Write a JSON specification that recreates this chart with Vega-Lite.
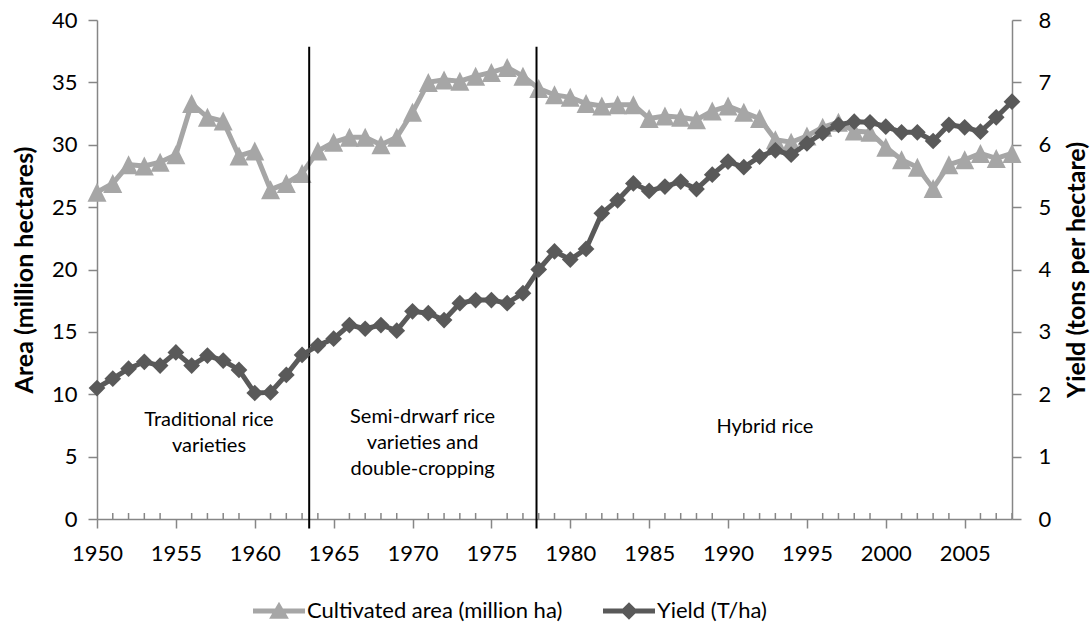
{
  "$schema": "https://vega.github.io/schema/vega-lite/v6.json",
  "width": 915,
  "height": 499,
  "autosize": "none",
  "padding": {"left": 97, "top": 20, "right": 78, "bottom": 106},
  "background": "white",
  "config": {
    "font": "Lato",
    "view": {"stroke": null},
    "axis": {"grid": false, "domainColor": "#868686", "tickColor": "#868686", "domainWidth": 1.5, "tickWidth": 1.5, "labelColor": "black", "labelFontSize": 22, "titleColor": "black", "labelFont": "Lato", "titleFont": "Lato"}
  },
  "datasets": {
    "rice": [
      {"year": 1950, "area": 26.2, "yield": 2.10},
      {"year": 1951, "area": 26.9, "yield": 2.25},
      {"year": 1952, "area": 28.4, "yield": 2.41},
      {"year": 1953, "area": 28.3, "yield": 2.52},
      {"year": 1954, "area": 28.6, "yield": 2.46},
      {"year": 1955, "area": 29.2, "yield": 2.67},
      {"year": 1956, "area": 33.3, "yield": 2.46},
      {"year": 1957, "area": 32.2, "yield": 2.62},
      {"year": 1958, "area": 31.9, "yield": 2.54},
      {"year": 1959, "area": 29.1, "yield": 2.39},
      {"year": 1960, "area": 29.5, "yield": 2.02},
      {"year": 1961, "area": 26.4, "yield": 2.03},
      {"year": 1962, "area": 26.9, "yield": 2.31},
      {"year": 1963, "area": 27.7, "yield": 2.63},
      {"year": 1964, "area": 29.5, "yield": 2.78},
      {"year": 1965, "area": 30.2, "yield": 2.89},
      {"year": 1966, "area": 30.6, "yield": 3.11},
      {"year": 1967, "area": 30.6, "yield": 3.05},
      {"year": 1968, "area": 30.0, "yield": 3.11},
      {"year": 1969, "area": 30.6, "yield": 3.02},
      {"year": 1970, "area": 32.6, "yield": 3.33},
      {"year": 1971, "area": 35.0, "yield": 3.30},
      {"year": 1972, "area": 35.2, "yield": 3.19},
      {"year": 1973, "area": 35.1, "yield": 3.46},
      {"year": 1974, "area": 35.5, "yield": 3.51},
      {"year": 1975, "area": 35.8, "yield": 3.51},
      {"year": 1976, "area": 36.2, "yield": 3.46},
      {"year": 1977, "area": 35.5, "yield": 3.62},
      {"year": 1978, "area": 34.5, "yield": 4.00},
      {"year": 1979, "area": 34.0, "yield": 4.29},
      {"year": 1980, "area": 33.8, "yield": 4.16},
      {"year": 1981, "area": 33.3, "yield": 4.33},
      {"year": 1982, "area": 33.1, "yield": 4.90},
      {"year": 1983, "area": 33.2, "yield": 5.11},
      {"year": 1984, "area": 33.2, "yield": 5.38},
      {"year": 1985, "area": 32.1, "yield": 5.26},
      {"year": 1986, "area": 32.3, "yield": 5.33},
      {"year": 1987, "area": 32.2, "yield": 5.41},
      {"year": 1988, "area": 32.0, "yield": 5.29},
      {"year": 1989, "area": 32.7, "yield": 5.52},
      {"year": 1990, "area": 33.1, "yield": 5.73},
      {"year": 1991, "area": 32.6, "yield": 5.64},
      {"year": 1992, "area": 32.1, "yield": 5.81},
      {"year": 1993, "area": 30.4, "yield": 5.91},
      {"year": 1994, "area": 30.2, "yield": 5.84},
      {"year": 1995, "area": 30.7, "yield": 6.02},
      {"year": 1996, "area": 31.4, "yield": 6.19},
      {"year": 1997, "area": 31.8, "yield": 6.32},
      {"year": 1998, "area": 31.1, "yield": 6.37},
      {"year": 1999, "area": 31.0, "yield": 6.36},
      {"year": 2000, "area": 29.8, "yield": 6.29},
      {"year": 2001, "area": 28.8, "yield": 6.20},
      {"year": 2002, "area": 28.2, "yield": 6.20},
      {"year": 2003, "area": 26.5, "yield": 6.06},
      {"year": 2004, "area": 28.4, "yield": 6.32},
      {"year": 2005, "area": 28.8, "yield": 6.28},
      {"year": 2006, "area": 29.3, "yield": 6.21},
      {"year": 2007, "area": 28.9, "yield": 6.44},
      {"year": 2008, "area": 29.3, "yield": 6.69}
    ],
    "eras": [
      {"boundary": 1963.45},
      {"boundary": 1977.86}
    ],
    "labels": [
      {"year": 1957.1, "pos": 8.73, "label": "Traditional rice\nvarieties"},
      {"year": 1970.64, "pos": 9.0, "label": "Semi-drwarf rice\nvarieties and\ndouble-cropping"},
      {"year": 1992.34, "pos": 8.2, "label": "Hybrid rice"}
    ]
  },
  "layer": [
    {
      "layer": [
        {
          "data": {"name": "rice"},
          "transform": [{"filter": "datum.year % 5 != 0"}],
          "mark": {"type": "rule", "color": "#868686", "strokeWidth": 1.5},
          "encoding": {
            "x": {"field": "year", "type": "quantitative", "scale": {"domain": [1950, 2008], "nice": false, "zero": false},
              "axis": {"values": [1950, 1955, 1960, 1965, 1970, 1975, 1980, 1985, 1990, 1995, 2000, 2005], "format": "d", "title": null, "tickSize": 9, "labelPadding": 15, "labelFlush": false, "labelOverlap": false}},
            "y": {"datum": 0, "type": "quantitative", "scale": {"domain": [0, 40], "nice": false, "zero": true},
              "axis": {"values": [0, 5, 10, 15, 20, 25, 30, 35, 40], "title": "Area (million hectares)", "titleFontSize": 25, "titleFontWeight": "bold", "tickSize": 9, "labelPadding": 11, "titlePadding": 14}},
            "y2": {"datum": 0.48}
          }
        },
        {
          "data": {"name": "rice"},
          "mark": {"type": "line", "color": "#a6a6a6", "strokeWidth": 5},
          "encoding": {
            "x": {"field": "year", "type": "quantitative"},
            "y": {"field": "area", "type": "quantitative"}
          }
        },
        {
          "data": {"name": "rice"},
          "mark": {"type": "point", "filled": true, "opacity": 1, "size": 361, "strokeWidth": 0, "shape": "M0,-1L1,1L-1,1Z"},
          "encoding": {
            "x": {"field": "year", "type": "quantitative"},
            "y": {"field": "area", "type": "quantitative"},
            "color": {"datum": "Cultivated area (million ha)", "type": "nominal",
              "scale": {"domain": ["Cultivated area (million ha)", "Yield (T/ha)"], "range": ["#a6a6a6", "#595959"]},
              "legend": {"orient": "none", "legendX": 156, "legendY": 565, "direction": "horizontal", "title": null, "symbolSize": 2704, "symbolType": "M0,-0.36L0.38,0.3L-0.38,0.3Z M-1,-0.1H1V0.1H-1Z", "labelFontSize": 22, "labelOffset": 2, "labelLimit": 500, "columnPadding": 40, "padding": 0, "symbolStrokeWidth": 0, "symbolOpacity": 1, "labelColor": "black", "labelFont": "Lato",
                "encode": {"symbols": {"update": {"shape": {"signal": "datum.value === 'Yield (T/ha)' ? 'M0,-0.34L0.34,0L0,0.34L-0.34,0Z M-1,-0.1H1V0.1H-1Z' : 'M0,-0.36L0.38,0.3L-0.38,0.3Z M-1,-0.1H1V0.1H-1Z'"}}}}}}
          }
        },
        {
          "data": {"name": "eras"},
          "mark": {"type": "rule", "color": "black", "strokeWidth": 2},
          "encoding": {
            "x": {"field": "boundary", "type": "quantitative"},
            "y": {"datum": 37.85, "type": "quantitative"},
            "y2": {"datum": -0.77}
          }
        },
        {
          "data": {"name": "labels"},
          "mark": {"type": "text", "align": "center", "baseline": "top", "fontSize": 20, "lineHeight": 26, "lineBreak": "\n", "color": "black", "font": "Lato"},
          "encoding": {
            "x": {"field": "year", "type": "quantitative"},
            "y": {"field": "pos", "type": "quantitative"},
            "text": {"field": "label"}
          }
        }
      ]
    },
    {
      "layer": [
        {
          "data": {"name": "rice"},
          "mark": {"type": "line", "color": "#595959", "strokeWidth": 5},
          "encoding": {
            "x": {"field": "year", "type": "quantitative"},
            "y": {"field": "yield", "type": "quantitative", "scale": {"domain": [0, 8], "nice": false, "zero": true},
              "axis": {"orient": "right", "values": [0, 1, 2, 3, 4, 5, 6, 7, 8], "format": "d", "title": "Yield (tons per hectare)", "titleFontSize": 25, "titleFontWeight": "bold", "titleAngle": 270, "titleBaseline": "top", "tickSize": 9, "labelPadding": 17, "titlePadding": 14}}
          }
        },
        {
          "data": {"name": "rice"},
          "mark": {"type": "point", "filled": true, "opacity": 1, "size": 280, "strokeWidth": 0, "shape": "diamond", "color": "#595959"},
          "encoding": {
            "x": {"field": "year", "type": "quantitative"},
            "y": {"field": "yield", "type": "quantitative"}
          }
        }
      ]
    }
  ],
  "resolve": {"scale": {"y": "independent"}}
}
